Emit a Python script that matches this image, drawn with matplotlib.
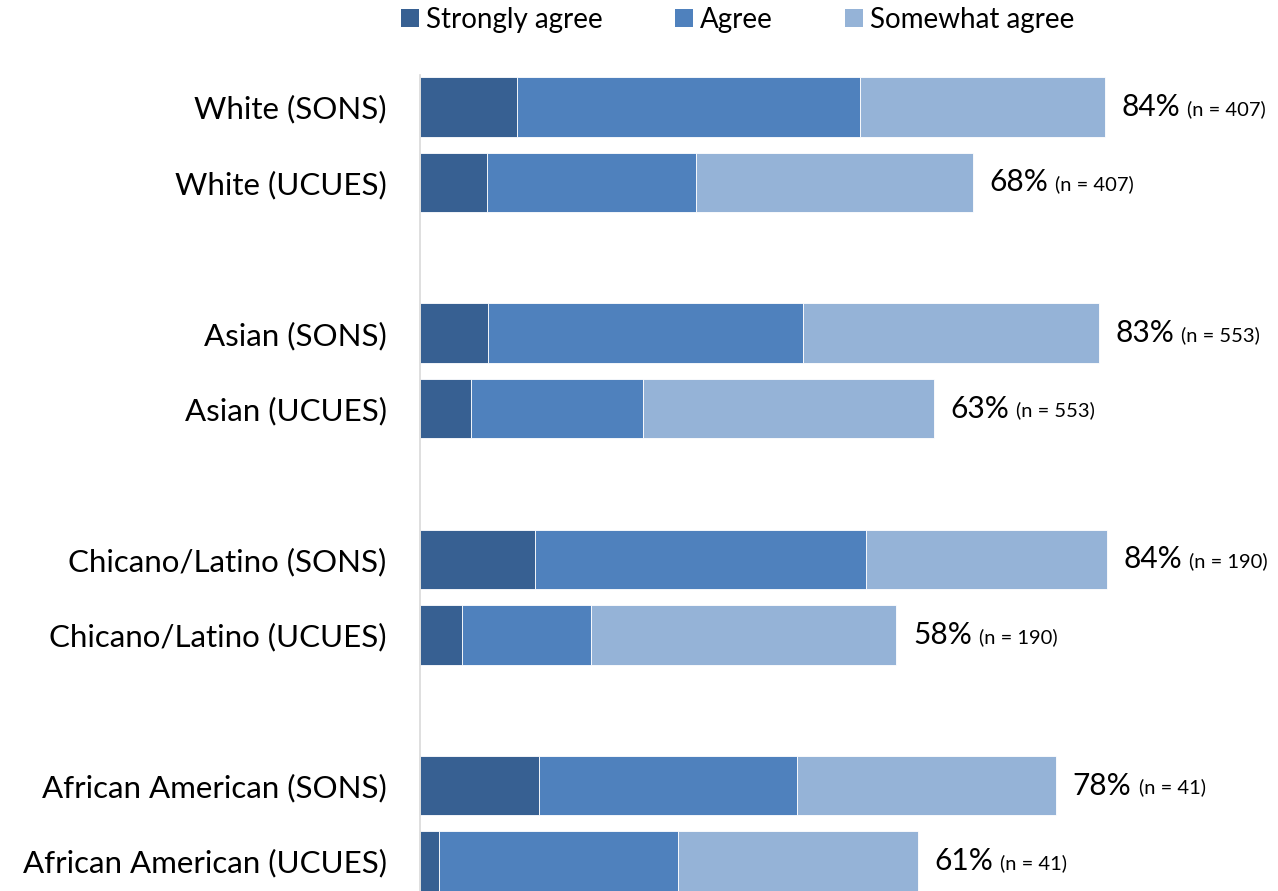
import numpy as np
import matplotlib.pyplot as plt
from matplotlib.patches import Patch

plt.rcParams['font.family'] = ['Lato', 'DejaVu Sans']

# data (percent of respondents)
groups = ["White (SONS)", "White (UCUES)",
          "Asian (SONS)", "Asian (UCUES)",
          "Chicano/Latino (SONS)", "Chicano/Latino (UCUES)",
          "African American (SONS)", "African American (UCUES)"]
strongly = [11.9, 8.2, 8.3, 6.3, 14.1, 5.2, 14.6, 2.3]
agree = [42.1, 25.6, 38.6, 21.0, 40.6, 15.8, 31.6, 29.3]
somewhat = [30.0, 34.0, 36.3, 35.7, 29.5, 37.4, 31.8, 29.4]
totals = ["84%", "68%", "83%", "63%", "84%", "58%", "78%", "61%"]
ns = [407, 407, 553, 553, 190, 190, 41, 41]

colors = {"Strongly agree": "#376092", "Agree": "#4F81BD", "Somewhat agree": "#95B3D7"}

fig = plt.figure(figsize=(12.78, 8.91), dpi=100)
ax = fig.add_axes([420 / 1278, 0, 1 - 420 / 1278, (891 - 75) / 891])

# pairs with a gap between groups
ypos = np.array([0, 1, 3, 4, 6, 7, 9, 10])
h = 0.79
s = np.array(strongly)
a = np.array(agree)
w = np.array(somewhat)
ax.barh(ypos, s, height=h, color=colors["Strongly agree"], edgecolor="white", linewidth=0.6)
ax.barh(ypos, a, left=s, height=h, color=colors["Agree"], edgecolor="white", linewidth=0.6)
ax.barh(ypos, w, left=s + a, height=h, color=colors["Somewhat agree"], edgecolor="white", linewidth=0.6)

ax.set_xlim(0, 105.2)
ax.set_ylim(10 + 30 / 75.4, -32 / 75.4)
ax.set_yticks(ypos)
ax.set_yticklabels(groups, fontsize=22.5)
ax.set_xticks([])
ax.tick_params(axis='y', length=0, pad=24)
for sp in ["top", "right", "bottom"]:
    ax.spines[sp].set_visible(False)
ax.spines["left"].set_color("#d9d9d9")
ax.spines["left"].set_linewidth(1.2)

# total labels with n
ends = s + a + w
for y, e, t, n in zip(ypos, ends, totals, ns):
    t1 = ax.annotate(t, xy=(e, y), xytext=(12, 0), textcoords='offset points',
                     ha='left', va='center', fontsize=21.5)
    ax.annotate(f"(n = {n})", xy=(1, 0.5), xycoords=t1, xytext=(5, -1.5),
                textcoords='offset points', ha='left', va='center', fontsize=14.5)

handles = [Patch(facecolor=colors[k]) for k in colors]
fig.legend(handles, list(colors.keys()), loc='center', bbox_to_anchor=(0.577, 0.978),
           ncol=3, frameon=False, fontsize=20, handlelength=0.65, handleheight=0.65,
           handletextpad=0.25, columnspacing=2.6)

plt.savefig("out.png", dpi=100)
